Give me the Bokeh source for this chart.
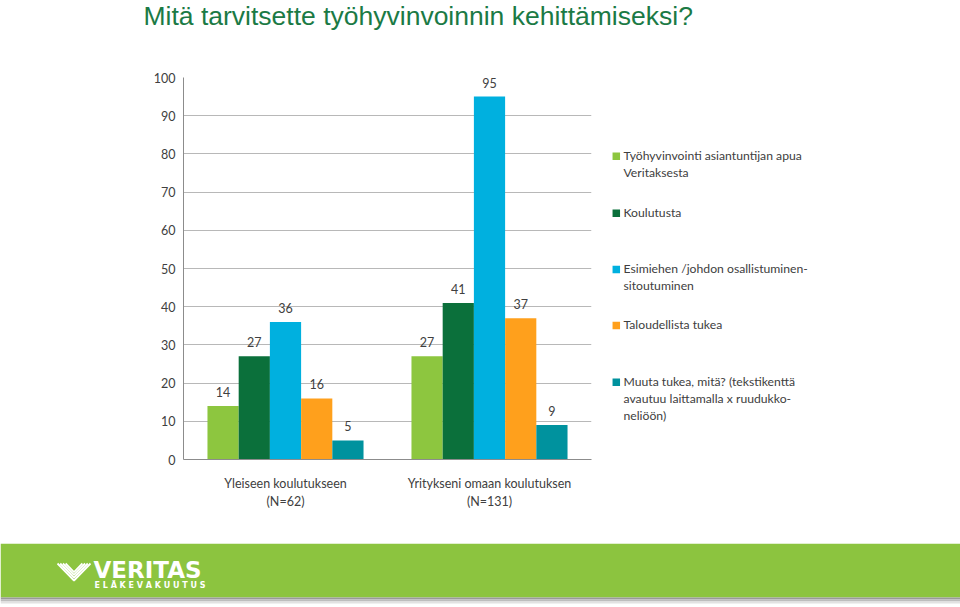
from bokeh.plotting import figure
from bokeh.layouts import column, row
from bokeh.models import (ColumnDataSource, LabelSet, FixedTicker, FactorRange, Range1d)
from bokeh.transform import dodge
from bokeh.core.properties import value
from bokeh.embed import file_html
from bokeh.resources import INLINE

# ---------------- data ----------------
title_text = "Mitä tarvitsette työhyvinvoinnin kehittämiseksi?"
categories = ["Yleiseen koulutukseen\n(N=62)", "Yritykseni omaan koulutuksen\n(N=131)"]
series_names = [
    "Työhyvinvointi asiantuntijan apua\nVeritaksesta",
    "Koulutusta",
    "Esimiehen /johdon osallistuminen-\nsitoutuminen",
    "Taloudellista tukea",
    "Muuta tukea, mitä? (tekstikenttä\navautuu laittamalla x ruudukko-\nneliöön)",
]
tyohyvinvointi = [14, 27]
koulutusta = [27, 41]
esimiehen = [36, 95]
taloudellista = [16, 37]
muuta = [5, 9]
series_values = [tyohyvinvointi, koulutusta, esimiehen, taloudellista, muuta]
y_ticks = [0, 10, 20, 30, 40, 50, 60, 70, 80, 90, 100]

# ---------------- style ----------------
colors = ["#8DC63F", "#0B703B", "#00B0DF", "#FFA01C", "#00929E"]
FONT = "Lato"
TXT = "#404040"
bar_w = 0.153
offsets = [-2 * bar_w, -bar_w, 0.0, bar_w, 2 * bar_w]

W, H = 960, 607
HEAD_H = 40            # header strip (title)
BANNER_TOP = 543       # footer strip starts here
MAIN_W = 600
FL, FR, FT, FB = 183, 591, 77, 459   # plot frame edges in page pixels


def canvas_fig(w, h, x0, x1, ytop, ybot):
    """A figure with no axes whose frame uses page-pixel coordinates."""
    f = figure(width=w, height=h, output_backend="svg", toolbar_location=None, title=None,
               x_range=Range1d(x0, x1), y_range=Range1d(ybot, ytop),
               x_axis_type=None, y_axis_type=None,
               min_border_left=0, min_border_right=0, min_border_top=0, min_border_bottom=0)
    f.outline_line_color = None
    f.grid.visible = False
    f.background_fill_color = "white"
    f.border_fill_color = "white"
    return f


# ---------------- header (title) ----------------
head = canvas_fig(W, HEAD_H, 0, W, 0, HEAD_H)
head.text(x=[143], y=[15], text=[title_text], text_font=value("Liberation Sans"),
          text_font_size="26.5px", text_color="#1B7A45", text_baseline="alphabetic")

# ---------------- main chart ----------------
main_h = BANNER_TOP - HEAD_H
p = figure(width=MAIN_W, height=main_h, output_backend="svg", toolbar_location=None,
           x_range=FactorRange(*categories), y_range=Range1d(0, 100),
           min_border_left=FL, min_border_right=MAIN_W - FR,
           min_border_top=FT - HEAD_H, min_border_bottom=BANNER_TOP - FB)
p.outline_line_color = None
p.background_fill_color = "white"
p.border_fill_color = "white"

for name, vals, col, off in zip(series_names, series_values, colors, offsets):
    src = ColumnDataSource(dict(x=categories, top=vals, lab=[str(v) for v in vals]))
    p.vbar(x=dodge("x", off, range=p.x_range), top="top", width=bar_w, source=src,
           fill_color=col, line_color=None)
    p.add_layout(LabelSet(x=dodge("x", off, range=p.x_range), y="top", text="lab", source=src,
                          text_align="center", text_baseline="alphabetic", y_offset=9,
                          text_font=value(FONT), text_font_size="12.5px", text_color=TXT))

p.yaxis.ticker = FixedTicker(ticks=y_ticks)
p.yaxis.major_tick_out = 0
p.yaxis.major_tick_in = 0
p.yaxis.minor_tick_line_color = None
p.yaxis.major_label_standoff = 8
p.xaxis.major_tick_line_color = None
p.xaxis.minor_tick_line_color = None
p.xaxis.major_label_standoff = 10
for ax in (p.xaxis[0], p.yaxis[0]):
    ax.axis_line_color = "#8C8C8C"
    ax.major_label_text_font = FONT
    ax.major_label_text_font_size = "12.5px"
    ax.major_label_text_color = TXT
p.xaxis.major_label_text_line_height = 1.25
p.xgrid.grid_line_color = None
p.ygrid.grid_line_color = "#B8B8B8"

# ---------------- legend panel (frame is aligned with the chart frame in the row) ----------------
leg = canvas_fig(W - MAIN_W, main_h, MAIN_W, W, FT, FB)
first_line_y = [155.7, 212.7, 269, 325, 381.7]
leg_src = ColumnDataSource(dict(y=first_line_y, color=colors, name=series_names))
leg.rect(x=615.8, y="y", width=7.5, height=7.5, fill_color="color", line_color=None, source=leg_src)
leg.text(x=623, y=dodge("y", -8.4), text="name", source=leg_src, text_font=value(FONT),
         text_font_size="12.2px", text_color=TXT, text_baseline="top", text_line_height=1.15)

# ---------------- footer banner ----------------
ban = canvas_fig(W, H - BANNER_TOP, 0, W, BANNER_TOP, H)
ban.quad(left=[0], right=[W], top=[543], bottom=[597], fill_color="#8CC43F", line_color=None)
ban.quad(left=[0, 0, 0], right=[W, W, W], top=[597, 599, 601], bottom=[599, 601, 603],
         fill_color=["#9A9A9A", "#BDBDBD", "#E2E2E2"], line_color=None)
vx0, vx1, vxm, vy0, vyb = 57.0, 90.0, 73.5, 563.0, 580.0
slope = (vyb - vy0) / (vxm - vx0)
vxs, vys = [], []
for o in (0.0, 2.7, 5.4, 8.1):
    vxs.append([vx0 + o, vxm, vx1 - o])
    vys.append([vy0, vyb - o * slope, vy0])
ban.multi_line(xs=vxs, ys=vys, line_color="white", line_width=1.8)
ban.text(x=[93], y=[569], text=["VERITAS"], text_font=value("DejaVu Sans"),
         text_font_style="bold", text_font_size="23px", text_color="white",
         text_baseline="alphabetic")
ban.text(x=[94], y=[584.5], text=["E L Ä K E V A K U U T U S"], text_font=value("DejaVu Sans"),
         text_font_style="bold", text_font_size="8px", text_color="white",
         text_baseline="middle")

layout = column(head, row(p, leg, spacing=0), ban, spacing=0)
open("out.html", "w").write(file_html(layout, INLINE))
